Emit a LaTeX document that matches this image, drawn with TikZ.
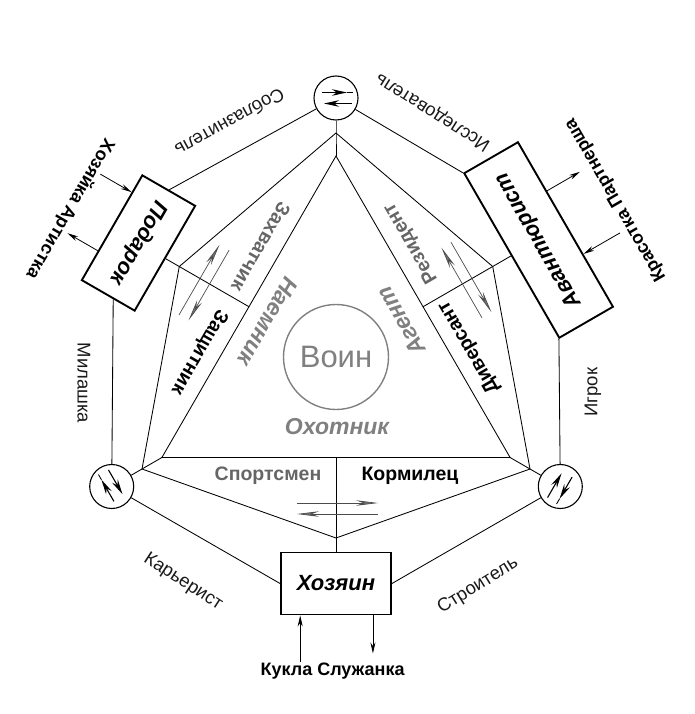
\documentclass[tikz,border=0pt]{standalone}
\usepackage{fontspec}
\setmainfont{Liberation Sans}
\usetikzlibrary{arrows.meta,calc}
\definecolor{lblgray}{gray}{0.40}
\definecolor{ingray}{gray}{0.50}
\definecolor{txt}{gray}{0.10}
\begin{document}
\begin{tikzpicture}[x=1pt,y=-1pt,
  ln/.style={line width=0.85pt},
  boxst/.style={draw, line width=1.9pt, inner sep=0pt, minimum height=62pt, font=\bfseries\itshape\fontsize{22}{24}\selectfont},
  smallcirc/.style={draw, circle, line width=1.1pt, minimum size=44pt, inner sep=0pt},
  outerlbl/.style={font=\fontsize{18.5}{20}\selectfont, text=txt, inner sep=0pt},
  seclbl/.style={font=\bfseries\fontsize{19.5}{21}\selectfont, inner sep=0pt},
  inlbl/.style={font=\bfseries\itshape\fontsize{23}{25}\selectfont, text=ingray, inner sep=0pt},
  extlbl/.style={font=\bfseries\fontsize{18}{20}\selectfont, inner sep=0pt},
  arr/.style={line width=0.8pt, -{Stealth[length=11pt,width=5pt]}},
  divarr/.style={line width=0.7pt, draw=black!70, -{Stealth[length=22pt,width=5.5pt,fill=black!55]}},
  circarr/.style={line width=1.1pt, -{Stealth[length=15pt,width=6.5pt]}},
]
\useasboundingbox (0,0) rectangle (694,714);
\coordinate (O) at (336,357);
% small circles
\node[smallcirc] (Ca) at (336,98) {};
\node[smallcirc] (Cb) at (560.3,486.5) {};
\node[smallcirc] (Cc) at (111.7,486.5) {};
% junctions
\coordinate (Ta) at (336,133);
\coordinate (Tb) at (530,469);
\coordinate (Tc) at (142,469);
% inner triangle
\coordinate (Ia) at (336,156);
\coordinate (Ib) at (510.1,457.5);
\coordinate (Ic) at (161.9,457.5);
% V vertices
\coordinate (Va) at (336,538);
\coordinate (Vb) at (179.3,266.5);
\coordinate (Vc) at (492.7,266.5);
% side midpoints
\coordinate (Ma) at (336,457.5);
\coordinate (Mb) at (249,306.75);
\coordinate (Mc) at (423,306.75);
% boxes
\node[boxst, minimum width=110pt] (Ba) at (336,583.5) {Хозяин};
\node[boxst, minimum width=121pt, minimum height=61pt, rotate=-120] (Bb) at (138.5,243) {Подарок};
\node[boxst, minimum width=190pt, rotate=120] (Bc) at (538.6,240) {Авантюрист};
% central circle
\node[draw=ingray, circle, line width=1.4pt, minimum size=105pt, inner sep=0pt, text=ingray, font=\fontsize{31}{33}\selectfont] (W) at (O) {Воин};
% structure
\draw[ln] (Ca) -- (Ta) -- (Ia);
\draw[ln] (Cb) -- (Tb) -- (Ib);
\draw[ln] (Cc) -- (Tc) -- (Ic);
\draw[ln] (Ia) -- (Ib) -- (Ic) -- cycle;
\draw[ln] (Vb) -- (Ta) -- (Vc);
\draw[ln] (Va) -- (Tb) -- (Vc);
\draw[ln] (Va) -- (Tc) -- (Vb);
\draw[ln] (Ba.north) -- (Ma);
\draw[ln] (Bb.north) -- (Mb);
\draw[ln] (Bc.north) -- (Mc);
% outer ring
\coordinate (BbE) at ($(Bb.south east)!0.6!(Bb.north east)$);
\draw[ln] (Ca) -- (Bb.west);
\draw[ln] (Ca) -- (Bc.north east);
\draw[ln] (Cb) -- (Bc.north west);
\draw[ln] (Cb) -- (Ba.east);
\draw[ln] (Cc) -- (Ba.west);
\draw[ln] (Cc) -- (BbE);
% rotated arrow pairs
\foreach \r/\s in {0/a,-120/b,120/c}{
  \begin{scope}[rotate around={\r:(336,357)}]
    \coordinate (dA\s) at (297,503);
    \coordinate (dB\s) at (378,503);
    \coordinate (dC\s) at (378,514);
    \coordinate (dD\s) at (297,514);
    \draw[divarr] (dA\s) -- (dB\s);
    \draw[divarr] (dC\s) -- (dD\s);
    \coordinate (cA\s) at (322,92.5);
    \coordinate (cB\s) at (347,92.5);
    \coordinate (cC\s) at (353,92.5);
    \coordinate (cD\s) at (352,103.5);
    \coordinate (cE\s) at (324,103.5);
    \draw[ln] (cB\s) -- (cC\s);
    \draw[circarr] (cA\s) -- (cB\s);
    \draw[circarr] (cD\s) -- (cE\s);
  \end{scope}
}
% external arrows of boxes
\coordinate (ka1) at ($(Ba.south west)!0.18!(Ba.south east)$);
\coordinate (ka0) at ($(ka1)!47pt!-90:(Ba.south east)$);
\coordinate (kb1) at ($(Ba.south west)!0.83!(Ba.south east)$);
\coordinate (kb0) at ($(kb1)!38pt!-90:(Ba.south east)$);
\coordinate (km) at ($(Ba.south west)!0.47!(Ba.south east)$);
\draw[arr] (ka0) -- (ka1);
\draw[arr] (kb1) -- (kb0);
\node[extlbl] (ta) at ($(km)!55.5pt!-90:(Ba.south east)$) {Кукла Служанка};

\coordinate (pa1) at ($(Bb.south west)!0.17!(Bb.south east)$);
\coordinate (pa0) at ($(pa1)!36pt!-90:(Bb.south east)$);
\coordinate (pb1) at ($(Bb.south west)!0.72!(Bb.south east)$);
\coordinate (pb0) at ($(pb1)!35pt!-90:(Bb.south east)$);
\coordinate (pm) at ($(Bb.south west)!0.54!(Bb.south east)$);
\draw[arr] (pa0) -- (pa1);
\draw[arr] (pb1) -- (pb0);
\node[extlbl, rotate=-120] (tb) at ($(pm)!45pt!-90:(Bb.south east)$) {Хозяйка Артистка};

\coordinate (qa1) at ($(Bc.south west)!0.32!(Bc.south east)$);
\coordinate (qa0) at ($(qa1)!42pt!-90:(Bc.south east)$);
\coordinate (qb1) at ($(Bc.south west)!0.70!(Bc.south east)$);
\coordinate (qb0) at ($(qb1)!38pt!-90:(Bc.south east)$);
\coordinate (qm) at ($(Bc.south west)!0.48!(Bc.south east)$);
\draw[arr] (qa0) -- (qa1);
\draw[arr] (qb1) -- (qb0);
\node[extlbl, rotate=120] (tc) at ($(qm)!55pt!-90:(Bc.south east)$) {Красотка Партнерша};
% outer labels
\node[outerlbl, rotate=-151] (o1) at (230,122.5) {Соблазнитель};
\node[outerlbl, rotate=148] (o2) at (433,112) {Исследователь};
\node[outerlbl, rotate=-90] (o3) at (84,383) {Милашка};
\node[outerlbl, rotate=90] (o4) at (593,392) {Игрок};
\node[outerlbl, rotate=-33] (o5) at (183,582) {Карьерист};
\node[outerlbl, rotate=32] (o6) at (478,586) {Строитель};
% sector labels
\node[seclbl, text=lblgray] (s1) at (268,476) {Спортсмен};
\node[seclbl] (s2) at (410,476) {Кормилец};
\node[seclbl, text=lblgray, rotate=-120] (s3) at (261,247) {Захватчик};
\node[seclbl, rotate=-120] (s4) at (199,352) {Защитник};
\node[seclbl, rotate=120] (s5) at (469,347) {Диверсант};
\node[seclbl, text=lblgray, rotate=120] (s6) at (411,243) {Резидент};
% inner labels
\node[inlbl] (i1) at (337,427) {Охотник};
\node[inlbl, rotate=-120] (i2) at (268,322) {Наемник};
\node[inlbl, rotate=120] (i3) at (401,321) {Агент};
\end{tikzpicture}
\end{document}
